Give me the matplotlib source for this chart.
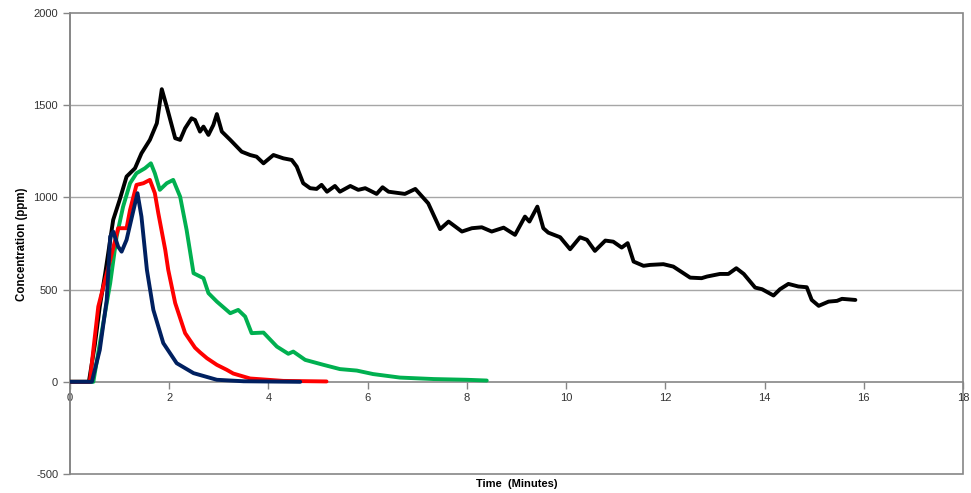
import matplotlib
matplotlib.use("Agg")
import matplotlib.pyplot as plt
from matplotlib.patches import Rectangle

plt.rcParams['font.family'] = ['Liberation Sans', 'DejaVu Sans']

black_x = [0, 0.38, 0.5, 0.6, 0.71, 0.87, 1.0, 1.14, 1.31, 1.44, 1.61, 1.75, 1.85, 1.95, 2.12, 2.22, 2.32,
           2.45, 2.52, 2.62, 2.69, 2.79, 2.89, 2.96, 3.06, 3.23, 3.46, 3.63, 3.76, 3.90, 4.1, 4.3, 4.47,
           4.57, 4.70, 4.84, 4.97, 5.07, 5.18, 5.34, 5.44, 5.65, 5.81, 5.95, 6.18, 6.30, 6.42, 6.75, 6.96,
           7.22, 7.46, 7.63, 7.90, 8.10, 8.30, 8.50, 8.74, 8.97, 9.17, 9.26, 9.42, 9.54, 9.64, 9.88, 10.08,
           10.28, 10.42, 10.58, 10.79, 10.95, 11.12, 11.24, 11.36, 11.56, 11.69, 11.96, 12.16, 12.5, 12.73,
           12.84, 13.1, 13.27, 13.43, 13.58, 13.81, 13.95, 14.18, 14.31, 14.48, 14.68, 14.85, 14.95, 15.09,
           15.29, 15.46, 15.56, 15.83]
black_y = [0, 0, 200, 408, 589, 878, 986, 1113, 1158, 1239, 1312, 1402, 1587, 1492, 1321, 1312, 1375,
           1429, 1420, 1357, 1384, 1339, 1393, 1452, 1357, 1312, 1248, 1230, 1221, 1185, 1230, 1212, 1203,
           1167, 1077, 1050, 1046, 1068, 1031, 1062, 1031, 1062, 1041, 1050, 1019, 1055, 1031, 1019, 1046,
           968, 828, 869, 815, 833, 838, 815, 836, 797, 896, 869, 950, 833, 809, 784, 719,
           784, 770, 710, 766, 760, 728, 752, 652, 629, 634, 638, 625, 565, 562,
           571, 585, 585, 616, 585, 511, 502, 468, 502, 531, 517, 513, 444, 412,
           435, 439, 450, 444]

green_x = [0, 0.47, 0.67, 0.81, 0.94, 1.07, 1.21, 1.34, 1.51, 1.63, 1.71, 1.81, 1.95, 2.08, 2.22, 2.35,
           2.49, 2.69, 2.79, 2.96, 3.23, 3.39, 3.53, 3.66, 3.90, 4.17, 4.40, 4.50, 4.74, 5.11, 5.44, 5.78,
           6.11, 6.65, 7.33, 8.0, 8.40]
green_y = [0, 0, 318, 535, 788, 950, 1077, 1131, 1158, 1185, 1131, 1041, 1077, 1095, 1004, 824,
           589, 562, 481, 435, 372, 390, 354, 264, 267, 191, 152, 164, 119, 92, 69, 61,
           42, 23, 15, 11, 7]

red_x = [0, 0.40, 0.47, 0.57, 0.81, 0.97, 1.14, 1.21, 1.34, 1.48, 1.61, 1.71, 1.78, 1.92, 1.98, 2.12,
         2.32, 2.52, 2.62, 2.76, 2.96, 3.16, 3.29, 3.63, 4.3, 5.17]
red_y = [0, 0, 173, 408, 661, 833, 833, 932, 1068, 1077, 1095, 1023, 914, 715, 607, 427,
         264, 185, 160, 128, 92, 65, 45, 18, 5, 2]

blue_x = [0, 0.44, 0.60, 0.74, 0.81, 0.87, 0.97, 1.04, 1.14, 1.28, 1.36, 1.44, 1.55, 1.68, 1.88, 2.15,
          2.49, 2.96, 3.5, 4.64]
blue_y = [0, 0, 173, 444, 788, 815, 733, 706, 770, 932, 1023, 896, 607, 390, 210, 101,
          47, 11, 3, 0]

x_ticks = [0, 2, 4, 6, 8, 10, 12, 14, 16, 18]
y_ticks = [-500, 0, 500, 1000, 1500, 2000]

fig = plt.figure(figsize=(9.71, 4.93), dpi=100)
ax = fig.add_axes([0.0721, 0.0385, 0.9197, 0.9351])

lw = 2.8
kw = dict(linewidth=lw, solid_joinstyle='round', solid_capstyle='round', zorder=3)
ax.plot(black_x, black_y, color='#000000', **kw)
ax.plot(green_x, green_y, color='#00B050', **kw)
ax.plot(red_x, red_y, color='#FF0000', **kw)
ax.plot(blue_x, blue_y, color='#002060', **kw)

ax.set_xlim(0, 18)
ax.set_ylim(-500, 2000)
ax.set_xticks(x_ticks)
ax.set_yticks(y_ticks)
ax.set_yticklabels([str(v) for v in y_ticks])
ax.set_xticklabels([str(v) for v in x_ticks])

for y in [500, 1000, 1500]:
    ax.axhline(y, color='#A6A6A6', linewidth=1.0, zorder=1)

for s in ['top', 'right']:
    ax.spines[s].set_visible(False)
ax.spines['bottom'].set_position(('data', 0))
ax.spines['bottom'].set_color('#868686')
ax.spines['left'].set_color('#868686')
ax.spines['bottom'].set_linewidth(1.2)
ax.spines['left'].set_linewidth(1.2)
ax.add_patch(Rectangle((0, 0), 1, 1, transform=ax.transAxes, fill=False,
                       edgecolor='#868686', linewidth=1.2, clip_on=False, zorder=0))

ax.tick_params(axis='both', direction='out', length=5, width=1, color='#868686',
               labelsize=8, labelcolor='#333333')
ax.tick_params(axis='x', pad=3)

fig.text(0.023, 0.505, 'Concentration (ppm)', fontsize=8.3, fontweight='bold',
         rotation=90, ha='center', va='center')
fig.text(0.532, 0.018, 'Time  (Minutes)', fontsize=8, fontweight='bold', ha='center', va='center')

fig.savefig('out.png', dpi=100)
